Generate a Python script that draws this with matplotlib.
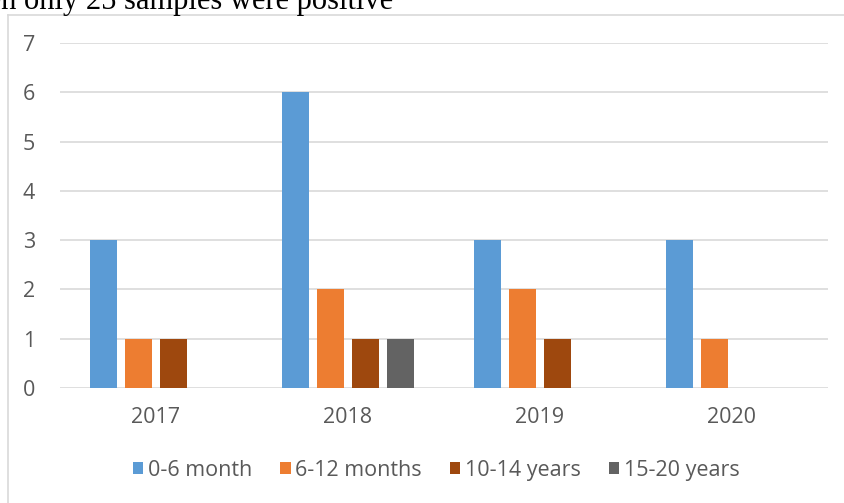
import matplotlib
matplotlib.use("Agg")
import matplotlib.pyplot as plt
from matplotlib.lines import Line2D
import numpy as np

years = ["2017", "2018", "2019", "2020"]
series_names = ["0-6 month", "6-12 months", "10-14 years", "15-20 years"]
v_0_6m = [3, 6, 3, 3]
v_6_12m = [1, 2, 2, 1]
v_10_14y = [1, 1, 1, 0]
v_15_20y = [0, 1, 0, 0]
colors = ["#5B9BD5", "#ED7D31", "#9E480E", "#636363"]

W, H = 845, 503
fig = plt.figure(figsize=(W / 100, H / 100), dpi=100)
fig.patch.set_facecolor("white")

# chart frame (left and top border)
fig.add_artist(Line2D([8 / W, 8 / W], [0, 1 - 14.5 / H], color="#d9d9d9", lw=1.2))
fig.add_artist(Line2D([8 / W, 1], [1 - 14.5 / H, 1 - 14.5 / H], color="#d9d9d9", lw=1.2))

# cut-off caption text at top
fig.text(393 / W, 1 - 9 / H, "then only 25 samples were positive", ha="right", va="baseline",
         family="Liberation Serif", fontsize=22, color="black")

ax = fig.add_axes([60 / W, 1 - 388 / H, 768 / W, (388 - 43) / H])
data = [v_0_6m, v_6_12m, v_10_14y, v_15_20y]
x = np.arange(len(years))
bw = 27 / 192
step = 35 / 192
offsets = (np.arange(4) - 1.5) * step
for i, (vals, name, c) in enumerate(zip(data, series_names, colors)):
    ax.bar(x + offsets[i], vals, width=bw, color=c, label=name, zorder=3)

FS = 15.5
ax.set_xlim(-0.5, 3.5)
ax.set_ylim(0, 7)
ax.set_yticks(range(0, 8))
ax.set_xticks(x)
ax.set_xticklabels(years)
ax.grid(axis="y", color="#d9d9d9", lw=1.2, zorder=0)
for s in ax.spines.values():
    s.set_visible(False)
ax.tick_params(length=0, labelsize=FS, colors="#595959", labelcolor="#595959")
ax.tick_params(axis="y", pad=18)
ax.tick_params(axis="x", pad=14)
for lab in ax.get_xticklabels() + ax.get_yticklabels():
    lab.set_family("Open Sans")

leg = fig.legend(loc="center", bbox_to_anchor=(436 / W, 1 - 470 / H), ncol=4, frameon=False,
                 prop={"family": "Open Sans", "size": FS}, handlelength=0.5, handleheight=0.5,
                 handletextpad=0.2, columnspacing=1.3)
for t in leg.get_texts():
    t.set_color("#595959")

fig.savefig("out.png", dpi=100, facecolor="white")
